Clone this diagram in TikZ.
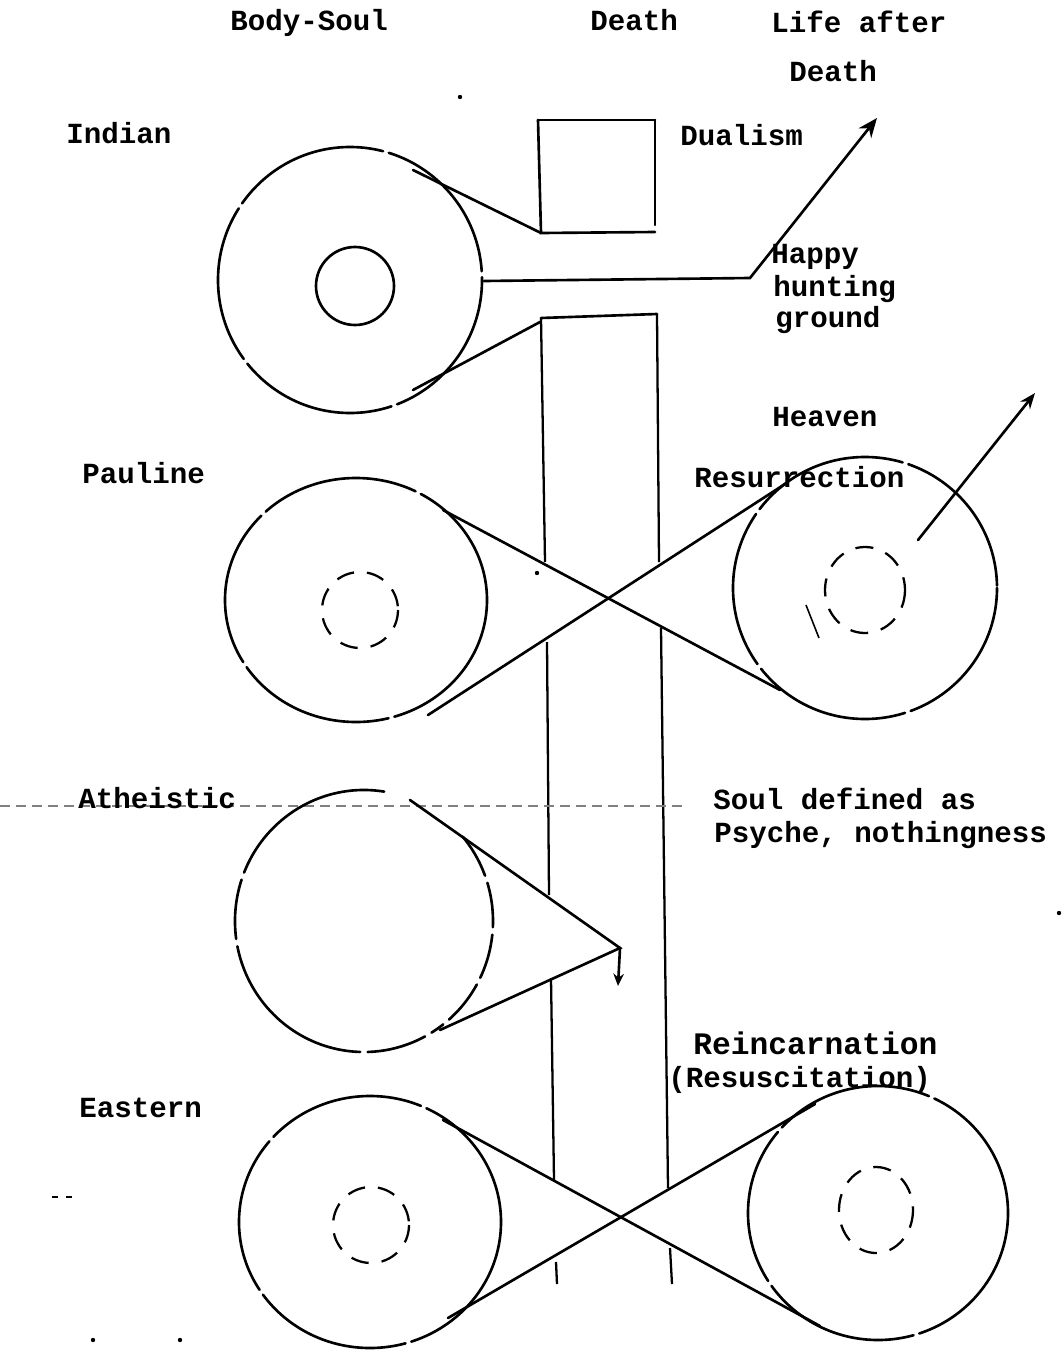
\documentclass[tikz,border=0pt]{standalone}
\usepackage{fontspec}
\setmonofont{Liberation Mono}
\usetikzlibrary{arrows.meta}
\begin{document}
\begin{tikzpicture}[x=0.02cm,y=-0.02cm,
  ln/.style={line width=1.5pt, line cap=round},
  outl/.style={ln, dash pattern=on 3.2cm off 0.12cm},
  innerdash/.style={line width=1.3pt, dash pattern=on 0.36cm off 0.26cm},
  colline/.style={line width=1.3pt},
  lbl/.style={anchor=base west, inner sep=0pt, font=\fontsize{16.6}{19}\selectfont\ttfamily\bfseries},
  speck/.style={fill=black, inner sep=0pt, minimum size=2.5pt, circle},
]
\useasboundingbox (0,0) rectangle (1063,1356);

% ---------- headings ----------
\node[lbl] (hbody) at (230,30) {Body-Soul};
\node[lbl] (hdeath) at (590,30) {Death};
\node[lbl] (hlife) at (771,32) {Life after};
\node[lbl] (hlife2) at (789,81) {Death};

% ---------- Death column ----------
\coordinate (bA) at (538,120); \coordinate (bB) at (655,120);
\coordinate (bC) at (541,233); \coordinate (bD) at (655,232);
\coordinate (bE) at (655,225);
\draw[ln] (bA) -- (bB);
\draw[ln] (bA) -- (bC) -- (bD);
\draw[ln] (bB) -- (bE);

\coordinate (cL) at (541,318); \coordinate (cR) at (657,314);
\draw[ln] (cL) -- (cR);
\draw[colline] (cL) -- (545,562);
\draw[colline] (547,642) -- (549,895);
\draw[colline] (551,978) -- (554,1180);
\draw[colline] (556,1262) -- (557,1284);
\draw[colline] (cR) -- (659,562);
\draw[colline] (661,628) -- (668,1188);
\draw[colline] (670,1248) -- (672,1284);

% ---------- Indian ----------
\node[lbl] (tind) at (66,143) {Indian};
\node[lbl] (tdual) at (680,145) {Dualism};
\node[lbl] (thappy) at (771,263) {Happy};
\node[lbl] (thunt) at (773,296) {hunting};
\node[lbl] (tground) at (775,327) {ground};
\draw[outl] (350,280) ellipse [x radius=132, y radius=133];
\draw[ln] (355,286) circle [radius=39];
\coordinate (iu) at (413,170); \coordinate (il) at (413,390);
\coordinate (ir) at (484,281); \coordinate (ik) at (750,278);
\coordinate (itip) at (877,118);
\draw[ln] (iu) -- (bC);
\draw[ln] (il) -- (540,322);
\draw[ln, -{Stealth[length=11pt,width=9pt]}] (ir) -- (ik) -- (itip);

% ---------- Pauline ----------
\node[lbl] (tpaul) at (82,483) {Pauline};
\node[lbl] (theav) at (772,426) {Heaven};
\node[lbl] (tres) at (694,487) {Resurrection};
\draw[outl] (356,600) ellipse [x radius=131, y radius=122];
\draw[innerdash] (360,610) circle [radius=38];
\draw[outl] (865,588) ellipse [x radius=132, y radius=131];
\draw[innerdash] (865,590) ellipse [x radius=40, y radius=43];
\coordinate (p1a) at (443,510); \coordinate (p1b) at (780,690);
\coordinate (p2a) at (428,715); \coordinate (p2b) at (785,484);
\draw[ln] (p1a) -- (p1b);
\draw[ln] (p2a) -- (p2b);
\coordinate (ha) at (918,540); \coordinate (hb) at (1035,393);
\draw[ln, -{Stealth[length=9pt,width=7pt]}] (ha) -- (hb);
\draw[line width=0.9pt] (806,605) -- (819,638);

% ---------- Atheistic ----------
\draw[gray, line width=0.7pt, dash pattern=on 0.2cm off 0.12cm] (0,806) -- (685,806);
\node[lbl] (tath) at (78,808) {Atheistic};
\node[lbl] (tsoul) at (713,809) {Soul defined as};
\node[lbl] (tpsy) at (714,842) {Psyche, nothingness};
\draw[ln, dash pattern=on 3.5cm off 0.15cm on 1.2cm off 0.15cm]
  ([shift={(279:129 and 131)}]364,921) arc [start angle=279, end angle=55, x radius=129, y radius=131];
\draw[ln, dash pattern=on 0.9cm off 0.15cm]
  ([shift={(-40:129 and 131)}]364,921) arc [start angle=-40, end angle=55, x radius=129, y radius=131];
\coordinate (au) at (410,800); \coordinate (apex) at (620,948);
\coordinate (al) at (440,1030); \coordinate (adown) at (618,986);
\draw[ln] (au) -- (apex) -- (al);
\draw[ln, -{Stealth[length=7pt,width=6pt]}] (apex) -- (adown);

% ---------- Eastern ----------
\node[lbl] (teast) at (79,1117) {Eastern};
\node[lbl, font=\fontsize{17.8}{20}\selectfont\ttfamily\bfseries] (treinc) at (693,1054) {Reincarnation};
\node[lbl] (tresus) at (668,1087) {(Resuscitation)};
\draw[outl] (370,1222) ellipse [x radius=131, y radius=126];
\draw[innerdash] (371,1225) circle [radius=38];
\draw[outl] (878,1213) ellipse [x radius=130, y radius=127];
\draw[innerdash] (876,1210) ellipse [x radius=37, y radius=43];
\coordinate (eAa) at (443,1120); \coordinate (eAb) at (820,1326);
\coordinate (eBa) at (448,1318); \coordinate (eBb) at (815,1104);
\draw[ln] (eAa) -- (eAb);
\draw[ln] (eBa) -- (eBb);

% ---------- specks of the scan ----------
\node[speck] (s1) at (460,97) {};
\node[speck] (s2) at (537,573) {};
\node[speck] (s3) at (1059,913) {};
\node[speck] (s4) at (93,1340) {};
\node[speck] (s5) at (180,1340) {};
\draw[line width=0.9pt] (52,1197) -- (58,1197) (66,1197) -- (72,1197);
\end{tikzpicture}
\end{document}
